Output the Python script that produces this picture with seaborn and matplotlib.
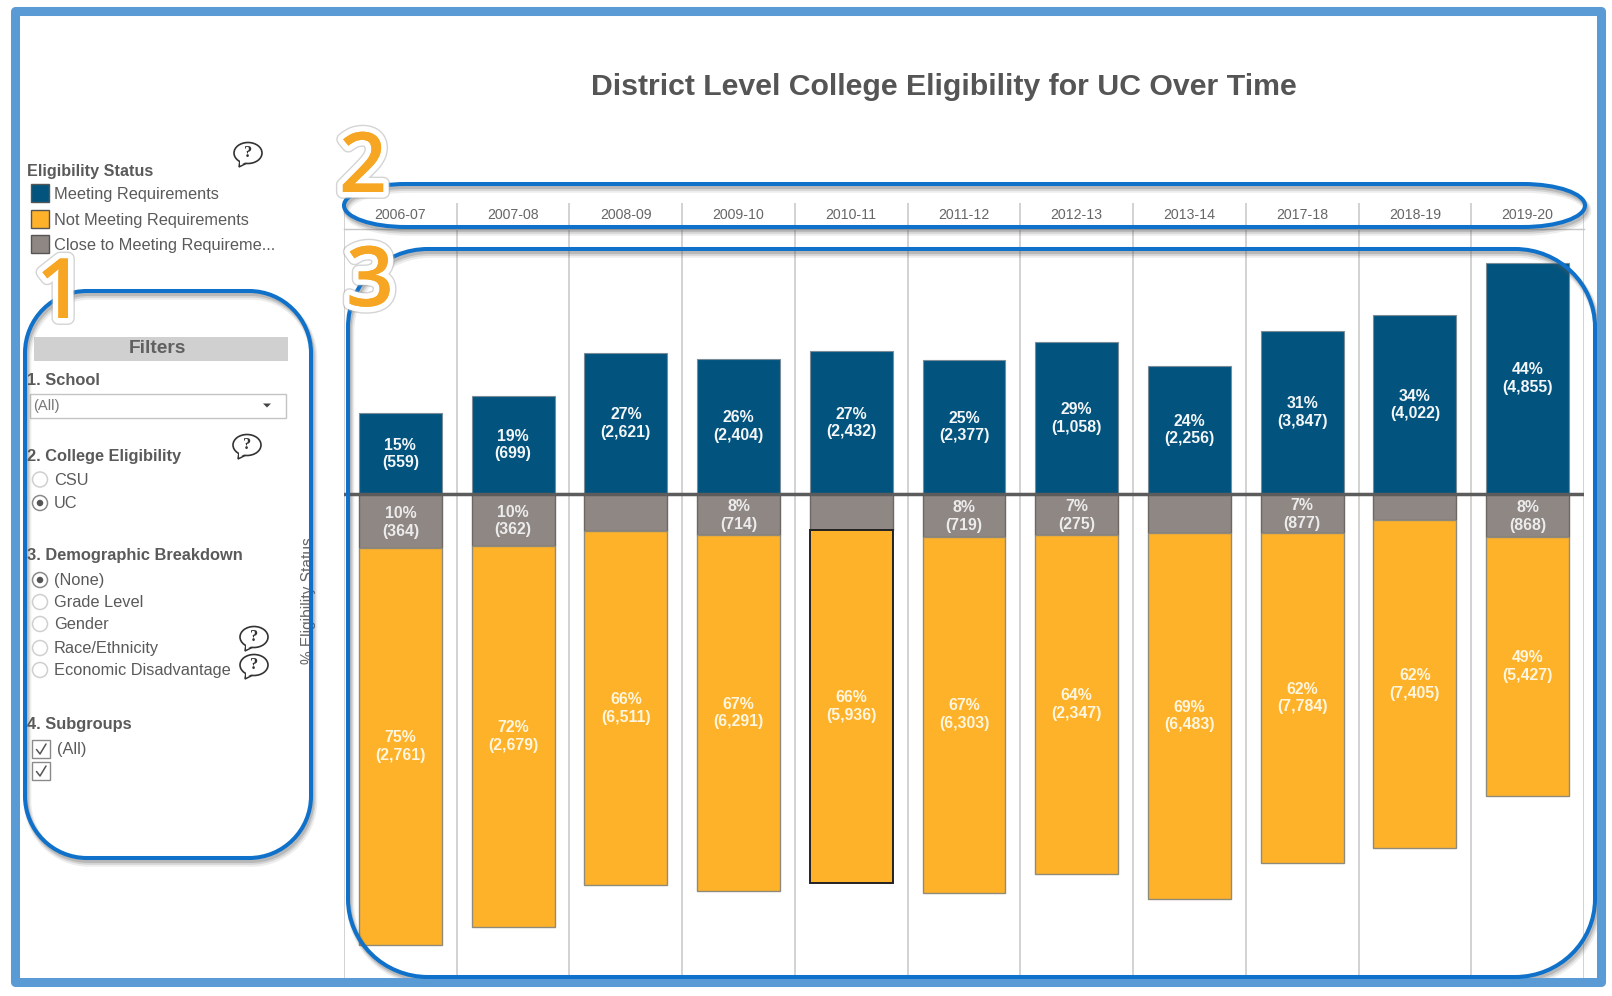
import numpy as np
import pandas as pd
import matplotlib
matplotlib.use("Agg")
import matplotlib.pyplot as plt
import matplotlib.patheffects as pe
from matplotlib.patches import Rectangle, PathPatch, Ellipse, Polygon
from matplotlib.path import Path
from matplotlib.ticker import FixedLocator
from matplotlib.transforms import Bbox
import seaborn as sns

# ---------- data ----------
years = ["2006-07", "2007-08", "2008-09", "2009-10", "2010-11", "2011-12",
         "2012-13", "2013-14", "2017-18", "2018-19", "2019-20"]
meeting_pct = [15.3, 18.6, 26.8, 25.6, 27.0, 25.4, 28.7, 24.3, 30.9, 33.8, 43.7]
close_pct = [10.1, 9.7, 7.0, 7.6, 6.8, 8.0, 7.6, 7.2, 7.2, 4.9, 8.0]
not_pct = [75.1, 72.0, 66.8, 67.4, 66.6, 67.2, 64.1, 69.3, 62.5, 61.9, 48.9]
meeting_text = ["15%\n(559)", "19%\n(699)", "27%\n(2,621)", "26%\n(2,404)", "27%\n(2,432)", "25%\n(2,377)",
                "29%\n(1,058)", "24%\n(2,256)", "31%\n(3,847)", "34%\n(4,022)", "44%\n(4,855)"]
close_text = ["10%\n(364)", "10%\n(362)", "", "8%\n(714)", "", "8%\n(719)",
              "7%\n(275)", "", "7%\n(877)", "", "8%\n(868)"]
not_text = ["75%\n(2,761)", "72%\n(2,679)", "66%\n(6,511)", "67%\n(6,291)", "66%\n(5,936)", "67%\n(6,303)",
            "64%\n(2,347)", "69%\n(6,483)", "62%\n(7,784)", "62%\n(7,405)", "49%\n(5,427)"]
title = "District Level College Eligibility for UC Over Time"
legend_title = "Eligibility Status"
legend_items = ["Meeting Requirements", "Not Meeting Requirements", "Close to Meeting Requireme..."]

NAVY, ORANGE, GREY = "#02547f", "#feb229", "#8f8784"
EDGES = {NAVY: "#7a8c98", ORANGE: "#8f8a7a", GREY: "#6c6765"}
W, H = 1612, 996

sns.set_style("white")
plt.rcParams["font.family"] = ["Liberation Sans", "DejaVu Sans"]
fig = plt.figure(figsize=(W / 100, H / 100), dpi=100, facecolor="white")


def axes_px(x0, y0, x1, y1, **kw):
    return fig.add_axes([x0 / W, 1 - y1 / H, (x1 - x0) / W, (y1 - y0) / H], **kw)


# ---------- chart ----------
PX_PER_PCT = 5.294
X0, X1, Y_HEAD, Y_ZERO, Y_BOT = 344, 1584, 229, 494.4, 980
ax = axes_px(X0, Y_HEAD, X1, Y_BOT)
df = pd.DataFrame({"year": years, "meeting": meeting_pct,
                   "close": -np.array(close_pct), "not": -np.array(not_pct)})
bw = 0.735
sns.barplot(data=df, x="year", y="meeting", color=NAVY, saturation=1, width=bw,
            edgecolor=EDGES[NAVY], linewidth=0.8, ax=ax, zorder=2, errorbar=None)
sns.barplot(data=df, x="year", y="close", color=GREY, saturation=1, width=bw,
            edgecolor=EDGES[GREY], linewidth=1.0, ax=ax, zorder=2, errorbar=None)
sns.barplot(data=df, x="year", y="not", bottom=df["close"], color=ORANGE, saturation=1, width=bw,
            edgecolor=EDGES[ORANGE], linewidth=1.0, ax=ax, zorder=2, errorbar=None)
# the selected 2010-11 bar has a dark outline
orange_bars = ax.containers[2]
orange_bars[4].set_edgecolor("#222222")
orange_bars[4].set_linewidth(1.4)

ax.set_xlim(-0.5, 10.5)
ax.set_ylim(-(Y_BOT - Y_ZERO) / PX_PER_PCT, (Y_ZERO - Y_HEAD) / PX_PER_PCT)
ax.set_xlabel("")
ax.set_ylabel("")
ax.set_yticks([])
ax.xaxis.tick_top()
ax.tick_params(axis="x", which="major", length=0, pad=5, labelsize=10.2, labelcolor="#666666")
boundaries = np.arange(-0.5, 11.0, 1)
ax.xaxis.set_minor_locator(FixedLocator(boundaries))
ax.tick_params(axis="x", which="minor", length=0)
ax.grid(True, axis="x", which="minor", color="#c6c6c6", lw=1.1)
ax.set_axisbelow(True)
for s in ["left", "right", "bottom"]:
    ax.spines[s].set_visible(False)
ax.spines["top"].set_color("#c6c6c6")
ax.spines["top"].set_linewidth(1.0)
ax.axhline(0, color="#5c5c5c", lw=2.5, zorder=3)

for i in range(len(years)):
    kw = dict(ha="center", va="center", linespacing=1.22, fontsize=11.4, zorder=4)
    ax.text(i, meeting_pct[i] / 2, meeting_text[i], color="#f4f6f8", fontweight="bold", **kw)
    ax.text(i, -close_pct[i] / 2 - 0.2, close_text[i], color="#ececec", fontweight="bold", **kw)
    ax.text(i, -close_pct[i] - not_pct[i] / 2, not_text[i], color="#fff6df", fontweight="bold", **kw)

# header cells above the chart
ax_h = axes_px(X0, 203, X1, Y_HEAD, sharex=None)
ax_h.set_xlim(-0.5, 10.5)
ax_h.set_ylim(0, 1)
ax_h.axis("off")
ax_h.vlines(boundaries, 0, 1, color="#c6c6c6", lw=1.1)

# ---------- overlay in pixel coordinates ----------
ov = axes_px(0, 0, W, H)
ov.set_xlim(0, W)
ov.set_ylim(H, 0)
ov.axis("off")
ov.patch.set_alpha(0)
ov.set_zorder(10)

TXT = "#5a5a5a"


def t(x, y, s, size=11.8, bold=False, color=TXT, **kw):
    return ov.text(x, y, s, fontsize=size, fontweight="bold" if bold else "normal", color=color,
                   va="center", **kw)


t(944, 86.5, title, size=21.8, bold=True, color="#555555", ha="center")

# legend
t(27, 171, legend_title, bold=True, size=11.6)
for yy, c, s in zip([184, 209.5, 235], [NAVY, ORANGE, GREY], legend_items):
    ov.add_patch(Rectangle((31, yy), 17.5, 18, fc=c, ec="#555555", lw=1.0))
    t(54, yy + 10.5, s)

# filters
ov.add_patch(Rectangle((34, 337), 254, 23.5, fc="#d0d0d0", ec="none"))
t(157, 348.5, "Filters", size=13.8, bold=True, color="#606060", ha="center")
t(27, 380, "1. School", bold=True)
ov.add_patch(Rectangle((29.5, 393.5), 256.5, 24, fc="white", ec="#c4c4c4", lw=1.0))
t(33, 405.5, "(All)", size=10.6, color="#777777")
ov.add_patch(Polygon([[263, 403.5], [271, 403.5], [267, 407.5]], fc="#444444", ec="none"))
t(27, 456.5, "2. College Eligibility", bold=True)
t(27, 555, "3. Demographic Breakdown", bold=True)
t(27, 724, "4. Subgroups", bold=True)


def radio(y, s, on=False):
    ov.add_patch(Ellipse((40, y), 15, 15, fc="white", ec="#8a8a8a" if on else "#cfcfcf", lw=1.1))
    if on:
        ov.add_patch(Ellipse((40, y), 6.5, 6.5, fc="#555555", ec="none"))
    return t(54, y + 0.5, s)


radio(479.5, "CSU")
radio(503, "UC", True)
radio(580, "(None)", True)
radio(602, "Grade Level")
radio(624, "Gender")
radio(648, "Race/Ethnicity")
eco = radio(670, "Economic Disadvantage")
eco.set_clip_on(True)
eco.set_clip_box(Bbox([[0, 0], [232, H]]))


def checkbox(y):
    ov.add_patch(Rectangle((32, y), 18, 18, fc="white", ec="#8a8a8a", lw=1.0))
    ov.plot([36.5, 40, 46], [y + 9.5, y + 14, y + 4], color="#555555", lw=1.1)


checkbox(740)
checkbox(762)
t(57, 749.5, "(All)")


def bubble(x, y):
    ov.add_patch(Polygon([[x - 8, y + 7], [x - 9, y + 14], [x - 1, y + 10]], fc="white", ec="#333333", lw=1.1, zorder=3))
    ov.add_patch(Ellipse((x, y), 28, 21, fc="white", ec="#333333", lw=1.2, zorder=3))
    ov.add_patch(Polygon([[x - 8, y + 6], [x - 8, y + 12], [x - 1, y + 8.5]], fc="white", ec="none", zorder=3))
    ov.text(x, y - 0.5, "?", fontsize=12, fontweight="bold", family="Liberation Serif",
            ha="center", va="center", color="#333333", zorder=4)


for bx, by in [(248, 153), (247, 445), (254, 637), (254, 665)]:
    bubble(bx, by)

# rotated axis title, cut by the annotation box
ov.text(309, 601, "% Eligibility Status", rotation=90, fontsize=11.2, color="#666666", ha="center", va="center")


# annotation boxes
def rrect(x0, y0, x1, y1, rx, ry):
    k = 0.5523
    v = [(x0 + rx, y0), (x1 - rx, y0),
         (x1 - rx + k * rx, y0), (x1, y0 + ry - k * ry), (x1, y0 + ry),
         (x1, y1 - ry),
         (x1, y1 - ry + k * ry), (x1 - rx + k * rx, y1), (x1 - rx, y1),
         (x0 + rx, y1),
         (x0 + rx - k * rx, y1), (x0, y1 - ry + k * ry), (x0, y1 - ry),
         (x0, y0 + ry),
         (x0, y0 + ry - k * ry), (x0 + rx - k * rx, y0), (x0 + rx, y0), (x0 + rx, y0)]
    c = [Path.MOVETO, Path.LINETO, Path.CURVE4, Path.CURVE4, Path.CURVE4, Path.LINETO,
         Path.CURVE4, Path.CURVE4, Path.CURVE4, Path.LINETO,
         Path.CURVE4, Path.CURVE4, Path.CURVE4, Path.LINETO,
         Path.CURVE4, Path.CURVE4, Path.CURVE4, Path.CLOSEPOLY]
    return Path(v, c)


BLUE = "#0f71c9"
boxes = [(25, 291, 311, 858, 62, 62), (344, 184, 1585, 227, 62, 21.5), (348, 249, 1595, 977, 80, 78)]
for b in boxes:
    p = rrect(*b)
    for dx, dy, lw, al in [(2.5, 5, 5.5, 0.10), (2, 4, 4, 0.16), (1.5, 3, 2.8, 0.22)]:
        shifted = Path(p.vertices + np.array([dx, dy]), p.codes)
        ov.add_patch(PathPatch(shifted, fc="none", ec="#555555", lw=lw, alpha=al, zorder=5))
    ov.add_patch(PathPatch(p, fc="none", ec=BLUE, lw=2.9, zorder=6))

# outer frame
ov.add_patch(Rectangle((14.5, 10.5), 1586, 971, fc="none", ec="#5b9bd5", lw=6.5, joinstyle="round", zorder=5.5))

# big numerals
for x, y, s in [(60, 296, "1"), (363, 170, "2"), (370, 284, "3")]:
    ov.text(x, y, s, fontsize=60, family="Open Sans", fontweight="semibold", color="#f6a623",
            ha="center", va="center", zorder=8,
            path_effects=[pe.withStroke(linewidth=10, foreground="#aaaaaa", alpha=0.5),
                          pe.withStroke(linewidth=8, foreground="white"), pe.Normal()])

fig.savefig("out.png", dpi=100, facecolor="white")
